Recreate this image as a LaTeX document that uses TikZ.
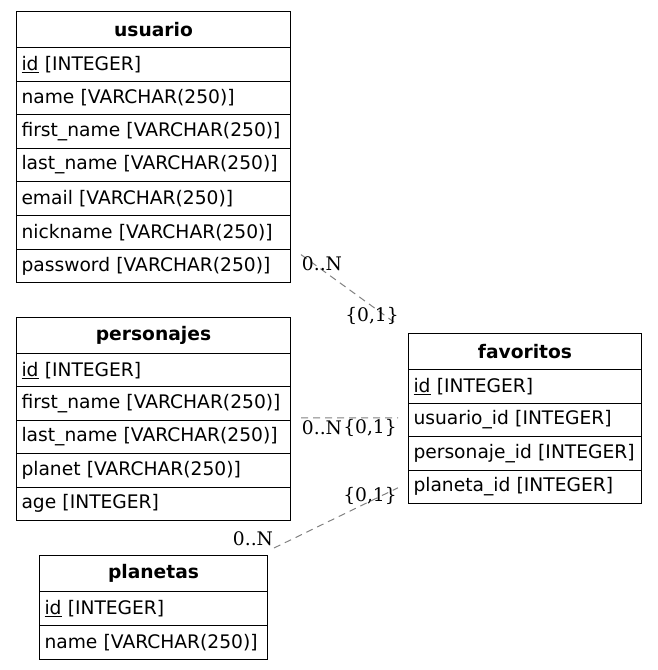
\documentclass[tikz,border=0pt]{standalone}
\usepackage{fontspec}
\setsansfont{DejaVu Sans}
\newfontfamily\cardfamily{DejaVu Serif}
\newcommand\tblfont{\sffamily\fontsize{18.67}{22}\selectfont}
\newcommand\cardfont{\cardfamily\fontsize{18.67}{22}\selectfont}

\tikzset{
    tbl/.style={draw, line width=1pt, inner xsep=5pt, inner ysep=0pt, anchor=north west, font=\tblfont},
    hdr/.style={tbl, align=center, minimum height=36pt, font=\tblfont\bfseries},
    fld/.style={tbl, align=left},
    rel/.style={draw=gray, line width=1pt, dash pattern=on 7pt off 5pt},
    card/.style={font=\cardfont, inner sep=0pt}
}

\begin{document}
\begin{tikzpicture}[x=1pt, y=-1pt]
        \useasboundingbox (0,0) rectangle (657,670);
        % usuario
        \node[hdr, text width=264pt] (usuario) at (16,11) {usuario};
        \foreach \f [count=\i] in {\underline{id} [INTEGER], name [VARCHAR(250)], first\_name [VARCHAR(250)], last\_name [VARCHAR(250)], email [VARCHAR(250)], nickname [VARCHAR(250)], password [VARCHAR(250)]} {
            \node[fld, text width=264pt, minimum height=33.6pt] (usuario-\i) at (16,{47+(\i-1)*33.6}) {\f};
        }
        % personajes
        \node[hdr, text width=264pt] (personajes) at (16,317) {personajes};
        \foreach \f [count=\i] in {\underline{id} [INTEGER], first\_name [VARCHAR(250)], last\_name [VARCHAR(250)], planet [VARCHAR(250)], age [INTEGER]} {
            \node[fld, text width=264pt, minimum height=33.4pt] (personajes-\i) at (16,{353+(\i-1)*33.4}) {\f};
        }
        % planetas
        \node[hdr, text width=218pt] (planetas) at (39,555) {planetas};
        \foreach \f [count=\i] in {\underline{id} [INTEGER], name [VARCHAR(250)]} {
            \node[fld, text width=218pt, minimum height=34pt] (planetas-\i) at (39,{591+(\i-1)*34}) {\f};
        }
        % favoritos
        \node[hdr, text width=223pt] (favoritos) at (408,333) {favoritos};
        \foreach \f [count=\i] in {\underline{id} [INTEGER], usuario\_id [INTEGER], personaje\_id [INTEGER], planeta\_id [INTEGER]} {
            \node[fld, text width=223pt, minimum height=33.5pt] (favoritos-\i) at (408,{369+(\i-1)*33.5}) {\f};
        }

        % relations
        \coordinate (u-t) at ([shift={(10,6)}]usuario-7.north east);
        \coordinate (u-h) at ([shift={(-10,-8)}]favoritos.north west);
        \draw[rel] (u-t) -- (u-h);
        \node[card] (u-tl) at ([shift={(21,9)}]u-t) {0..N};
        \node[card] (u-hl) at ([shift={(-26,-9)}]u-h) {\{0,1\}};

        \coordinate (p-t) at ([shift={(10,-3)}]personajes-2.south east);
        \coordinate (p-h) at ([shift={(-10,-2)}]favoritos-2.west);
        \draw[rel] (p-t) -- (p-h);
        \node[card] (p-tl) at ([shift={(21,10)}]p-t) {0..N};
        \node[card] (p-hl) at ([shift={(-28,10)}]p-h) {\{0,1\}};

        \coordinate (l-t) at ([shift={(6,-7)}]planetas.north east);
        \coordinate (l-h) at ([shift={(-10,1)}]favoritos-4.west);
        \draw[rel] (l-t) -- (l-h);
        \node[card] (l-tl) at ([shift={(-21,-9)}]l-t) {0..N};
        \node[card] (l-hl) at ([shift={(-28,8)}]l-h) {\{0,1\}};
    \end{tikzpicture}
\end{document}
